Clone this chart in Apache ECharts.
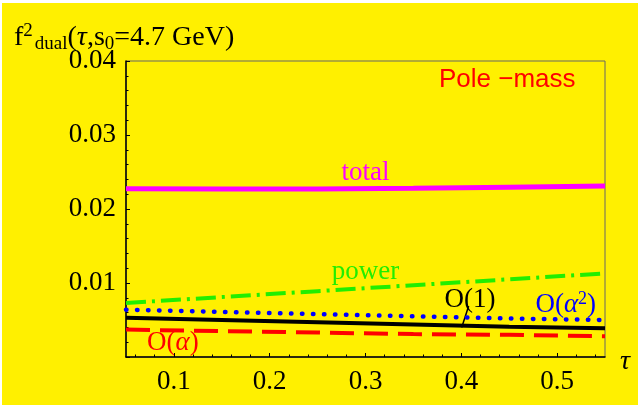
<!DOCTYPE html>
<html><head><meta charset="utf-8">
<script src="https://cdn.jsdelivr.net/npm/echarts@6/dist/echarts.min.js"></script>
<style>html,body{margin:0;padding:0;background:#fff;}#c{width:640px;height:407px;}</style>
</head><body><div id="c"></div>
<script>
const tau = [0.05, 0.15, 0.25, 0.35, 0.45, 0.55];
const total = [0.02275, 0.0227, 0.0227, 0.0228, 0.02295, 0.0231];
const power = [0.0073, 0.0081, 0.0089, 0.0097, 0.0105, 0.0113];
const oAlpha2 = [0.0064, 0.0061, 0.0058, 0.0055, 0.0052, 0.0050];
const o1 = [0.0053, 0.0050, 0.0047, 0.0044, 0.0041, 0.0039];
const oAlpha = [0.0037, 0.0035, 0.0033, 0.0031, 0.0030, 0.0028];
const xMajor = [0.1, 0.2, 0.3, 0.4, 0.5];
const xMinor = [0.06,0.08,0.12,0.14,0.16,0.18,0.22,0.24,0.26,0.28,0.32,0.34,0.36,0.38,0.42,0.44,0.46,0.48,0.52,0.54];

const pair = a => tau.map((t, i) => [t, a[i]]);
const serif = 'Liberation Serif';
const chart = echarts.init(document.getElementById('c'));
const grid = {left: 126, top: 61, width: 479, height: 296, show: true, borderColor: '#666', borderWidth: 1, backgroundColor: 'transparent'};
const xBase = {type: 'value', min: 0.05, max: 0.55, gridIndex: 0, splitLine: {show: false}};
chart.setOption({
  animation: false,
  backgroundColor: '#fff',
  grid: grid,
  xAxis: [
    Object.assign({}, xBase, {
      position: 'bottom',
      axisLine: {show: true, lineStyle: {color: '#000', width: 1.5}},
      axisTick: {show: true, inside: true, length: 4, customValues: xMajor, lineStyle: {color: '#000'}},
      axisLabel: {show: true, customValues: xMajor, margin: 11, color: '#000', fontFamily: serif, fontSize: 27, formatter: v => v.toFixed(1)}
    }),
    Object.assign({}, xBase, {
      position: 'bottom',
      axisLine: {show: false},
      axisTick: {show: true, inside: true, length: 2.5, customValues: xMinor, lineStyle: {color: '#000'}},
      axisLabel: {show: false}
    })
  ],
  yAxis: {
    type: 'value', min: 0, max: 0.04, interval: 0.01,
    axisLine: {show: true, lineStyle: {color: '#000', width: 1.5}},
    axisTick: {show: true, inside: true, length: 4, lineStyle: {color: '#000'}},
    minorTick: {show: true, splitNumber: 5, length: 2.5, lineStyle: {color: '#000'}},
    splitLine: {show: false},
    axisLabel: {color: '#000', fontFamily: serif, fontSize: 27, margin: 10, formatter: v => v === 0 ? '' : v.toFixed(2)}
  },
  series: [
    {type: 'line', data: pair(total), symbol: 'none', lineStyle: {color: '#FF00FF', width: 5}},
    {type: 'line', data: pair(power), symbol: 'none', lineStyle: {color: '#22EE00', width: 4, type: [20, 6, 3, 6]}},
    {type: 'line', data: pair(oAlpha2), symbol: 'none', lineStyle: {color: '#0000FF', width: 4.5, type: [0.5, 10.5], cap: 'round'}},
    {type: 'line', data: pair(o1), symbol: 'none', lineStyle: {color: '#000000', width: 4}},
    {type: 'line', data: pair(oAlpha), symbol: 'none', lineStyle: {color: '#FF0000', width: 4, type: [24, 10]}}
  ]
});

function px(x, y) { return chart.convertToPixel({gridIndex: 0}, [x, y]); }
function label(x, y, text, fill) {
  const p = px(x, y);
  return {type: 'text', x: p[0], y: p[1], style: {text: text, fill: fill, font: '27px "Liberation Serif"', align: 'center', verticalAlign: 'middle'}};
}
const itRich = c => ({
  n: {fontFamily: serif, fontSize: 27, fill: c},
  i: {fontFamily: serif, fontSize: 27, fontStyle: 'italic', fill: c},
  sup: {fontFamily: serif, fontSize: 18, fill: c, padding: [0, 0, 12, 0]}
});
const pLine0 = px(0.4077, 0.0069), pLine1 = px(0.4004, 0.0040);
chart.setOption({
  graphic: [
    {type: 'rect', z: -10, silent: true, shape: {x: 2, y: 3, width: 636, height: 402}, style: {fill: '#FFF000'}},
    label(0.30, 0.0249, 'total', '#FF00FF'),
    label(0.30, 0.0115, 'power', '#22EE00'),
    label(0.409, 0.0077, 'O(1)', '#000'),
    {type: 'text', x: px(0.509, 0)[0], y: px(0, 0.0070)[1], style: {text: '{n|O(}{i|α}{sup|2}{n|)}', rich: itRich('#0000FF'), align: 'center', verticalAlign: 'middle'}},
    {type: 'text', x: px(0.099, 0)[0], y: px(0, 0.0019)[1], style: {text: '{n|O(}{i|α}{n|)}', rich: itRich('#FF0000'), align: 'center', verticalAlign: 'middle'}},
    {type: 'text', x: px(0.448, 0)[0], y: px(0, 0.0374)[1], style: {text: 'Pole −mass', fill: '#FF0000', font: '26px "Liberation Sans"', align: 'center', verticalAlign: 'middle'}},
    {type: 'text', x: 625, y: 362, style: {text: 'τ', fill: '#000', font: 'italic 28px "Liberation Serif"', align: 'center', verticalAlign: 'middle'}},
    {type: 'line', shape: {x1: pLine0[0], y1: pLine0[1], x2: pLine1[0], y2: pLine1[1]}, style: {stroke: '#000', lineWidth: 1.5}},
    {type: 'text', x: 14, y: 38, style: {
      text: '{n|f}{sup|2}{sub|dual}{n|(}{i|τ}{n|,s}{sub|0}{n|=4.7 GeV)}',
      rich: {
        n: {fontFamily: serif, fontSize: 28, fill: '#000'},
        i: {fontFamily: serif, fontSize: 28, fontStyle: 'italic', fill: '#000'},
        sup: {fontFamily: serif, fontSize: 19, fill: '#000', padding: [0, 2, 13, 0]},
        sub: {fontFamily: serif, fontSize: 19, fill: '#000', padding: [12, 0, 0, 0]}
      },
      align: 'left', verticalAlign: 'middle'}}
  ]
});
</script></body></html>
